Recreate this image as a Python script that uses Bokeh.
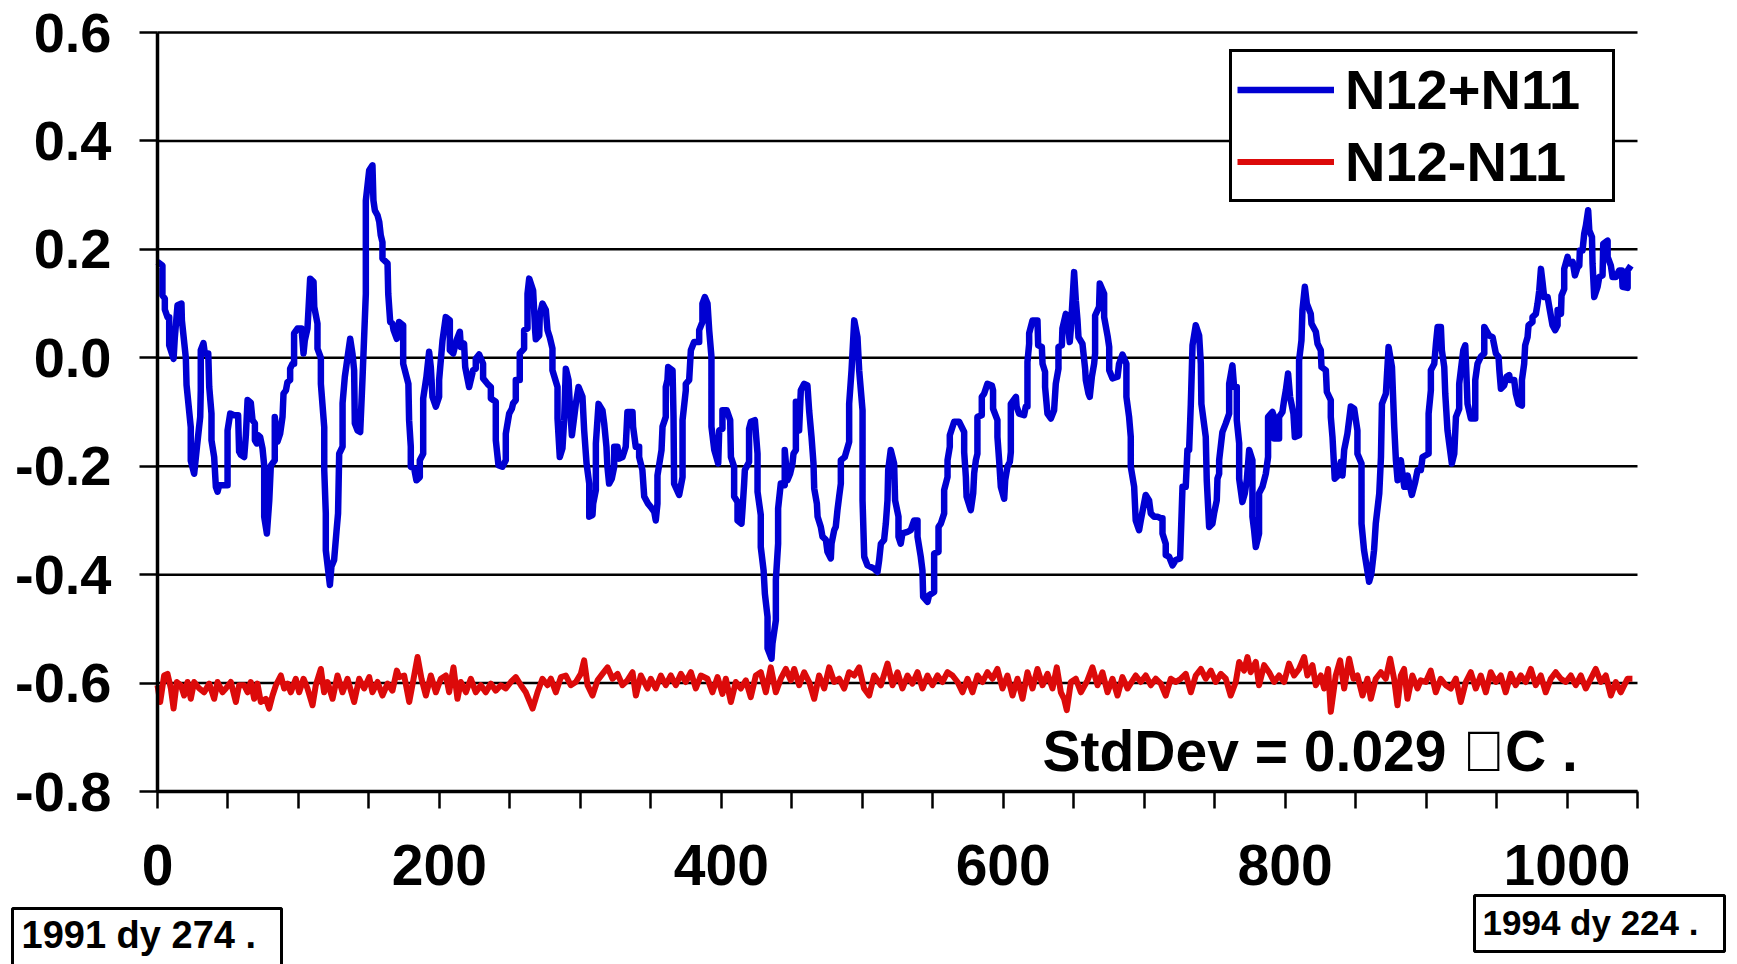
from bokeh.plotting import figure
from bokeh.models import (Range1d, FixedTicker, NumeralTickFormatter, Legend, LegendItem,
                          Label, BoxAnnotation)
from bokeh.embed import file_html
from bokeh.resources import INLINE

# ---------------- data ----------------
series_names = ["N12+N11", "N12-N11"]

sum_day = [
    0, 3.5, 3.5, 5.2, 5.2, 7.1, 8.3, 8.3, 11.4, 12.3,
    14.2, 17.0, 17.3, 20.1, 20.6, 23.6, 23.6, 26.0, 28.0, 30.3,
    30.7, 30.7, 32.6, 33.6, 36.0, 36.7, 38.3, 38.3, 40.2, 41.4,
    42.6, 43.8, 49.7, 49.7, 51.6, 54.4, 57.2, 57.9, 59.1, 61.5,
    62.7, 63.9, 66.2, 67.4, 69.1, 69.1, 70.5, 71.4, 72.8, 74.5,
    75.7, 75.7, 77.6, 79.3, 80.4, 83.2, 83.2, 85.1, 87.0, 88.7,
    89.4, 91.1, 92.2, 94.1, 94.1, 95.8, 96.9, 96.9, 99.3, 102.2,
    103.6, 104.5, 106.4, 108.3, 110.7, 111.2, 113.5, 113.5, 115.9, 115.9,
    118.3, 118.3, 119.4, 119.4, 122.3, 123.4, 125.3, 127.0, 128.1, 128.9,
    131.3, 131.3, 132.9, 136.7, 138.3, 139.5, 140.0, 141.9, 143.8, 145.4,
    147.8, 147.8, 150.2, 152.5, 153.2, 154.2, 156.1, 157.3, 158.4, 159.6,
    159.6, 163.2, 163.7, 165.1, 166.7, 167.5, 169.8, 171.4, 174.3, 174.3,
    178.0, 178.5, 179.7, 179.7, 182.1, 183.7, 186.1, 186.1, 188.5, 188.5,
    190.8, 192.7, 193.9, 195.1, 197.5, 199.8, 199.8, 202.2, 204.5, 207.4,
    207.4, 209.8, 212.1, 214.5, 215.2, 217.5, 218.3, 221.1, 223.9, 225.8,
    225.8, 228.2, 231.0, 231.0, 234.1, 236.5, 236.5, 240.0, 240.0, 241.9,
    244.7, 247.1, 247.1, 249.5, 251.4, 252.3, 254.2, 254.2, 257.0, 257.0,
    260.1, 260.1, 262.5, 262.5, 263.7, 266.5, 267.2, 267.9, 268.4, 270.8,
    271.2, 273.1, 275.5, 276.7, 278.3, 280.2, 280.2, 283.8, 283.8, 285.4,
    287.3, 288.5, 289.7, 291.6, 292.5, 294.0, 296.8, 298.7, 301.5, 302.7,
    304.4, 306.3, 306.3, 308.6, 309.1, 311.0, 311.0, 312.9, 315.7, 316.9,
    318.5, 319.2, 320.4, 322.3, 324.0, 324.0, 326.3, 327.5, 329.9, 332.2,
    333.4, 337.0, 337.4, 339.3, 341.7, 341.7, 344.0, 345.3, 348.0, 349.9,
    352.4, 353.5, 354.7, 354.7, 357.6, 358.3, 360.6, 360.6, 361.8, 362.3,
    365.4, 366.1, 366.5, 370.1, 372.5, 372.5, 374.8, 374.8, 377.2, 378.4,
    380.7, 384.3, 384.3, 386.6, 386.6, 388.3, 390.2, 391.4, 393.0, 393.0,
    395.0, 397.8, 398.5, 400.8, 400.8, 403.9, 406.3, 406.8, 409.1, 409.1,
    411.5, 411.5, 414.3, 415.0, 416.2, 416.7, 419.7, 419.7, 421.0, 423.8,
    425.7, 425.7, 428.0, 428.0, 430.0, 430.9, 432.8, 432.8, 435.6, 436.3,
    438.7, 438.7, 440.3, 440.3, 442.2, 445.0, 445.0, 446.9, 448.8, 450.5,
    451.2, 452.9, 452.9, 454.0, 455.2, 456.4, 458.8, 461.1, 462.3, 464.0,
    465.4, 465.9, 467.8, 468.3, 470.6, 471.8, 474.2, 475.3, 477.7, 478.2,
    480.1, 481.2, 482.4, 483.6, 484.8, 484.8, 487.6, 490.7, 490.7, 492.4,
    494.3, 496.6, 497.8, 500.2, 500.2, 501.4, 503.7, 508.5, 510.8, 512.0,
    513.2, 515.5, 516.7, 517.9, 518.4, 520.2, 522.6, 523.3, 525.7, 525.7,
    527.3, 528.5, 532.1, 534.4, 536.8, 539.2, 539.2, 541.5, 542.7, 543.2,
    546.3, 547.4, 551.0, 551.0, 554.1, 554.1, 555.7, 558.1, 558.1, 560.5,
    560.5, 562.1, 562.1, 565.2, 568.7, 572.3, 572.3, 573.5, 574.0, 577.0,
    578.7, 579.4, 580.6, 581.7, 581.7, 584.8, 584.8, 586.5, 588.8, 591.9,
    592.8, 592.8, 595.9, 595.9, 597.1, 598.3, 600.7, 601.4, 603.0, 604.7,
    605.4, 605.4, 609.0, 609.5, 611.3, 614.8, 616.0, 617.2, 617.2, 618.4,
    618.4, 620.8, 624.3, 624.8, 627.4, 627.9, 629.7, 629.7, 631.4, 633.8,
    636.1, 637.3, 639.2, 639.2, 641.6, 642.0, 644.4, 646.3, 647.2, 648.0,
    650.3, 651.5, 652.7, 653.4, 656.2, 658.1, 658.6, 660.5, 661.4, 662.9,
    664.5, 665.2, 665.2, 668.0, 668.5, 671.6, 671.6, 674.0, 675.2, 675.2,
    677.5, 681.1, 682.2, 684.6, 687.4, 687.4, 689.3, 690.5, 690.5, 692.9,
    694.0, 696.4, 697.6, 701.1, 703.5, 704.7, 707.0, 709.4, 711.8, 713.0,
    713.0, 715.3, 715.3, 717.7, 720.1, 722.4, 725.5, 727.2, 729.5, 730.7,
    731.9, 733.1, 734.3, 736.6, 739.0, 740.2, 740.6, 743.7, 744.4, 746.1,
    748.4, 749.6, 751.5, 752.0, 753.2, 753.2, 755.5, 757.9, 760.3, 760.3,
    762.6, 763.8, 765.7, 765.7, 767.4, 767.4, 769.7, 771.4, 772.8, 774.5,
    776.8, 776.8, 778.0, 779.2, 781.5, 781.5, 783.9, 786.3, 787.9, 787.9,
    791.0, 792.2, 792.2, 795.7, 795.7, 798.1, 799.3, 800.5, 802.1, 803.5,
    805.9, 806.9, 809.9, 809.9, 811.6, 812.3, 814.0, 815.4, 818.2, 818.7,
    821.8, 823.0, 825.3, 825.8, 828.9, 829.6, 832.4, 832.4, 833.6, 835.2,
    837.6, 839.5, 840.7, 841.9, 844.2, 846.6, 849.0, 851.3, 851.3, 854.2,
    854.2, 856.0, 859.6, 861.2, 863.1, 864.3, 866.8, 868.0, 868.7, 871.5,
    873.4, 875.8, 877.4, 878.6, 879.8, 882.1, 883.3, 884.5, 886.9, 886.9,
    889.9, 892.3, 894.0, 896.3, 897.5, 901.8, 901.8, 903.4, 903.4, 905.8,
    907.0, 908.2, 910.5, 911.2, 912.9, 913.6, 915.2, 916.4, 918.3, 920.0,
    921.2, 923.5, 923.5, 926.4, 927.8, 928.7, 929.4, 931.8, 934.9, 934.9,
    936.5, 938.9, 941.3, 941.3, 944.8, 947.2, 949.5, 951.4, 952.0, 953.1,
    955.4, 957.1, 959.0, 959.5, 962.5, 963.7, 965.6, 968.0, 968.0, 969.6,
    970.3, 972.0, 972.7, 975.5, 975.5, 977.9, 979.1, 980.3, 981.5, 982.6,
    983.8, 986.2, 987.8, 989.7, 991.6, 993.3, 993.3, 995.7, 996.1, 998.0,
    998.0, 1000.4, 1001.6, 1004.0, 1005.6, 1007.5, 1008.7, 1009.1, 1011.0, 1012.2,
    1013.4, 1015.0, 1015.8, 1017.7, 1018.1, 1019.3, 1021.7, 1022.9, 1025.2, 1025.7,
    1028.8, 1028.8, 1031.1, 1032.3, 1034.7, 1037.0, 1038.9, 1039.4, 1043.0, 1043.0,
    1045.3,
]

sum_val = [
    0.177, 0.170, 0.115, 0.109, 0.089, 0.075, 0.075, 0.023, -0.002, 0.038,
    0.097, 0.100, 0.069, 0.000, -0.050, -0.128, -0.190, -0.214, -0.164, -0.109,
    -0.060, 0.014, 0.027, 0.008, 0.008, -0.054, -0.103, -0.152, -0.183, -0.238,
    -0.247, -0.235, -0.235, -0.134, -0.103, -0.106, -0.106, -0.173, -0.179, -0.183,
    -0.143, -0.078, -0.083, -0.115, -0.121, -0.152, -0.158, -0.143, -0.146, -0.167,
    -0.199, -0.293, -0.324, -0.263, -0.199, -0.189, -0.109, -0.155, -0.140, -0.109,
    -0.066, -0.060, -0.045, -0.041, -0.020, -0.011, -0.011, 0.045, 0.054, 0.054,
    0.008, 0.032, 0.054, 0.146, 0.140, 0.094, 0.063, 0.017, 0.000, -0.048,
    -0.128, -0.207, -0.287, -0.355, -0.419, -0.385, -0.373, -0.320, -0.287, -0.177,
    -0.164, -0.084, -0.035, 0.035, 0.008, -0.023, -0.121, -0.134, -0.137, -0.041,
    0.118, 0.290, 0.346, 0.355, 0.290, 0.272, 0.263, 0.251, 0.226, 0.213,
    0.183, 0.174, 0.118, 0.066, 0.063, 0.051, 0.035, 0.066, 0.060, -0.011,
    -0.048, -0.115, -0.164, -0.201, -0.204, -0.226, -0.220, -0.189, -0.177, -0.075,
    -0.035, 0.011, -0.017, -0.072, -0.090, -0.072, -0.041, 0.032, 0.075, 0.069,
    0.014, 0.008, 0.032, 0.048, 0.020, 0.026, -0.017, -0.054, -0.023, -0.020,
    -0.002, 0.006, -0.011, -0.038, -0.048, -0.054, -0.075, -0.081, -0.152, -0.198,
    -0.201, -0.189, -0.140, -0.103, -0.094, -0.084, -0.078, -0.041, -0.041, 0.008,
    0.017, 0.051, 0.054, 0.118, 0.146, 0.124, 0.088, 0.051, 0.034, 0.041,
    0.078, 0.100, 0.088, 0.051, 0.038, 0.017, -0.023, -0.054, -0.112, -0.183,
    -0.167, -0.115, -0.020, -0.041, -0.085, -0.143, -0.085, -0.054, -0.072, -0.134,
    -0.195, -0.232, -0.293, -0.290, -0.269, -0.244, -0.158, -0.085, -0.097, -0.121,
    -0.164, -0.201, -0.232, -0.223, -0.201, -0.164, -0.164, -0.186, -0.183, -0.164,
    -0.100, -0.100, -0.127, -0.164, -0.164, -0.183, -0.207, -0.256, -0.269, -0.275,
    -0.284, -0.300, -0.269, -0.217, -0.170, -0.127, -0.109, -0.054, -0.041, -0.017,
    -0.023, -0.109, -0.232, -0.253, -0.220, -0.115, -0.060, -0.048, -0.041, 0.014,
    0.029, 0.029, 0.051, 0.066, 0.100, 0.112, 0.100, 0.051, 0.002, -0.127,
    -0.170, -0.195, -0.134, -0.131, -0.097, -0.097, -0.115, -0.183, -0.201, -0.256,
    -0.266, -0.300, -0.306, -0.281, -0.232, -0.207, -0.192, -0.131, -0.118, -0.115,
    -0.177, -0.247, -0.290, -0.349, -0.392, -0.435, -0.478, -0.536, -0.555, -0.527,
    -0.484, -0.410, -0.343, -0.278, -0.232, -0.235, -0.170, -0.226, -0.214, -0.195,
    -0.177, -0.170, -0.081, -0.103, -0.134, -0.060, -0.048, -0.051, -0.097, -0.146,
    -0.195, -0.241, -0.269, -0.293, -0.312, -0.330, -0.336, -0.358, -0.370, -0.343,
    -0.318, -0.312, -0.281, -0.256, -0.232, -0.189, -0.183, -0.155, -0.085, -0.023,
    0.069, 0.038, -0.023, -0.097, -0.263, -0.367, -0.383, -0.389, -0.395, -0.373,
    -0.343, -0.336, -0.306, -0.263, -0.207, -0.170, -0.195, -0.263, -0.293, -0.330,
    -0.343, -0.324, -0.321, -0.318, -0.300, -0.300, -0.330, -0.367, -0.392, -0.441,
    -0.450, -0.438, -0.432, -0.361, -0.358, -0.312, -0.306, -0.287, -0.244, -0.220,
    -0.189, -0.164, -0.143, -0.118, -0.118, -0.137, -0.174, -0.220, -0.256, -0.281,
    -0.250, -0.213, -0.189, -0.177, -0.109, -0.106, -0.072, -0.066, -0.048, -0.051,
    -0.060, -0.094, -0.115, -0.146, -0.189, -0.238, -0.260, -0.226, -0.201, -0.192,
    -0.174, -0.085, -0.072, -0.090, -0.103, -0.106, -0.090, -0.090, -0.008, 0.026,
    0.045, 0.069, 0.069, 0.023, 0.020, -0.011, -0.026, -0.054, -0.103, -0.112,
    -0.097, -0.048, -0.020, 0.020, 0.023, 0.054, 0.081, 0.051, 0.029, 0.054,
    0.158, 0.106, 0.069, 0.038, 0.026, -0.020, -0.041, -0.066, -0.072, -0.035,
    -0.011, 0.008, 0.078, 0.094, 0.137, 0.118, 0.075, 0.041, 0.020, -0.023,
    -0.038, -0.035, -0.011, 0.006, -0.011, -0.072, -0.109, -0.146, -0.201, -0.238,
    -0.300, -0.318, -0.300, -0.253, -0.263, -0.287, -0.293, -0.293, -0.296, -0.296,
    -0.324, -0.343, -0.364, -0.367, -0.383, -0.373, -0.370, -0.238, -0.238, -0.170,
    -0.170, -0.085, 0.023, 0.060, 0.041, -0.011, -0.085, -0.146, -0.226, -0.312,
    -0.306, -0.287, -0.263, -0.223, -0.214, -0.189, -0.137, -0.121, -0.103, -0.048,
    -0.014, -0.054, -0.054, -0.115, -0.158, -0.223, -0.266, -0.250, -0.226, -0.170,
    -0.189, -0.293, -0.318, -0.349, -0.324, -0.250, -0.238, -0.214, -0.183, -0.109,
    -0.100, -0.109, -0.149, -0.149, -0.109, -0.100, -0.078, -0.060, -0.029, -0.072,
    -0.103, -0.146, -0.143, -0.005, 0.032, 0.088, 0.131, 0.100, 0.081, 0.063,
    0.048, 0.026, 0.014, -0.017, -0.023, -0.063, -0.078, -0.109, -0.146, -0.223,
    -0.217, -0.192, -0.217, -0.170, -0.140, -0.090, -0.094, -0.134, -0.177, -0.195,
    -0.306, -0.355, -0.413, -0.398, -0.355, -0.306, -0.250, -0.183, -0.085, -0.066,
    0.020, -0.017, -0.127, -0.189, -0.226, -0.189, -0.214, -0.238, -0.238, -0.217,
    -0.253, -0.229, -0.207, -0.207, -0.183, -0.177, -0.103, -0.060, -0.023, -0.011,
    0.026, 0.057, 0.057, 0.014, -0.017, -0.066, -0.134, -0.158, -0.195, -0.177,
    -0.109, -0.094, -0.048, 0.014, 0.023, -0.035, -0.085, -0.112, -0.112, -0.041,
    -0.011, 0.002, 0.008, 0.057, 0.041, 0.038, 0.008, 0.002, -0.023, -0.057,
    -0.051, -0.035, -0.032, -0.041, -0.041, -0.066, -0.085, -0.088, -0.041, -0.011,
    0.023, 0.038, 0.060, 0.066, 0.075, 0.081, 0.100, 0.124, 0.164, 0.140,
    0.112, 0.112, 0.088, 0.060, 0.051, 0.060, 0.088, 0.081, 0.115, 0.127,
    0.164, 0.186, 0.174, 0.177, 0.152, 0.167, 0.170, 0.198, 0.198, 0.229,
    0.244, 0.272, 0.235, 0.223, 0.174, 0.112, 0.131, 0.149, 0.152, 0.210,
    0.216, 0.186, 0.170, 0.149, 0.149, 0.161, 0.161, 0.131, 0.129, 0.161,
    0.170,
]

diff_day = [
    0, 1.9, 4.7, 7.1, 9.5, 11.4, 13.7, 16.6, 18.9, 21.3,
    23.6, 26.0, 29.6, 33.1, 36.7, 40.2, 42.6, 46.1, 48.5, 52.0,
    55.6, 57.9, 61.5, 63.9, 66.2, 68.6, 70.9, 73.3, 76.9, 79.2,
    81.6, 84.0, 87.5, 89.9, 92.2, 94.6, 98.1, 100.5, 103.6, 106.4,
    110.0, 112.3, 115.9, 118.2, 120.6, 124.2, 127.7, 131.3, 134.8, 139.5,
    143.1, 146.6, 150.2, 152.5, 156.1, 159.6, 163.2, 166.7, 169.8, 171.5,
    175.0, 178.6, 182.1, 184.5, 187.3, 190.4, 193.9, 197.5, 201.0, 204.6,
    206.9, 210.0, 212.8, 215.2, 218.8, 222.3, 225.8, 229.4, 232.9, 236.5,
    240.0, 243.6, 247.1, 250.7, 254.2, 257.8, 261.3, 266.1, 269.6, 273.1,
    276.7, 279.1, 282.6, 286.2, 289.7, 293.2, 296.8, 300.3, 302.7, 305.1,
    308.6, 312.2, 315.7, 319.3, 322.8, 326.4, 329.9, 333.4, 337.0, 339.4,
    342.9, 347.6, 350.0, 353.5, 357.1, 360.6, 364.2, 367.7, 371.3, 374.8,
    378.4, 381.9, 385.5, 390.2, 393.7, 397.3, 400.8, 403.2, 406.8, 410.3,
    413.8, 417.4, 420.9, 424.5, 428.0, 431.6, 435.1, 438.7, 442.2, 445.8,
    449.3, 451.7, 455.2, 458.8, 462.3, 465.9, 469.4, 473.0, 476.5, 480.1,
    483.6, 487.2, 490.7, 494.3, 497.8, 501.3, 504.9, 508.4, 513.2, 517.9,
    521.5, 525.0, 528.5, 532.1, 535.6, 539.2, 542.7, 546.3, 549.8, 553.4,
    556.9, 560.5, 564.0, 567.6, 571.1, 574.7, 578.2, 581.8, 585.3, 588.8,
    592.4, 595.9, 599.5, 603.0, 606.6, 610.1, 613.7, 617.2, 620.8, 624.3,
    627.9, 631.4, 635.0, 638.0, 640.9, 643.2, 645.1, 648.0, 651.5, 655.1,
    659.8, 663.3, 666.9, 670.4, 674.0, 677.5, 681.1, 684.6, 688.2, 694.0,
    697.6, 701.1, 704.7, 708.2, 711.8, 715.3, 718.9, 722.4, 726.0, 729.5,
    733.1, 736.6, 740.2, 743.7, 747.3, 750.8, 754.4, 757.9, 761.4, 765.0,
    767.4, 770.9, 773.3, 775.6, 779.2, 781.5, 785.1, 788.6, 792.2, 795.7,
    799.3, 802.8, 806.4, 809.9, 813.5, 815.8, 819.4, 821.8, 825.3, 827.7,
    830.5, 832.4, 835.9, 839.0, 841.9, 845.4, 848.5, 851.3, 854.9, 858.4,
    860.8, 864.3, 867.9, 871.4, 874.5, 877.3, 879.7, 882.1, 884.4, 886.8,
    890.3, 893.9, 896.2, 899.8, 903.3, 906.9, 910.4, 914.0, 917.5, 921.1,
    924.6, 928.2, 931.7, 935.3, 938.8, 942.4, 945.9, 949.5, 953.0, 956.5,
    960.1, 963.6, 967.2, 970.7, 974.3, 977.8, 981.4, 984.9, 988.5, 992.0,
    995.6, 999.1, 1002.7, 1006.2, 1009.8, 1013.3, 1016.9, 1020.4, 1024.0, 1027.5,
    1031.1, 1034.6, 1038.1, 1042.9, 1046.4,
]

diff_val = [
    -0.604, -0.635, -0.586, -0.583, -0.610, -0.647, -0.598, -0.604, -0.623, -0.598,
    -0.629, -0.598, -0.610, -0.617, -0.601, -0.629, -0.598, -0.617, -0.610, -0.598,
    -0.635, -0.604, -0.604, -0.617, -0.598, -0.629, -0.601, -0.635, -0.629, -0.647,
    -0.623, -0.604, -0.586, -0.610, -0.601, -0.617, -0.592, -0.617, -0.592, -0.610,
    -0.641, -0.604, -0.574, -0.617, -0.598, -0.629, -0.586, -0.617, -0.592, -0.635,
    -0.592, -0.610, -0.589, -0.617, -0.598, -0.623, -0.601, -0.614, -0.577, -0.589,
    -0.586, -0.635, -0.586, -0.552, -0.592, -0.623, -0.586, -0.617, -0.592, -0.586,
    -0.617, -0.571, -0.629, -0.598, -0.617, -0.592, -0.617, -0.604, -0.617, -0.601,
    -0.614, -0.604, -0.610, -0.598, -0.589, -0.604, -0.617, -0.647, -0.617, -0.592,
    -0.604, -0.592, -0.617, -0.589, -0.586, -0.604, -0.598, -0.583, -0.558, -0.604,
    -0.623, -0.595, -0.583, -0.571, -0.592, -0.583, -0.604, -0.595, -0.580, -0.623,
    -0.586, -0.610, -0.592, -0.610, -0.586, -0.604, -0.586, -0.604, -0.583, -0.598,
    -0.580, -0.610, -0.586, -0.592, -0.617, -0.589, -0.620, -0.592, -0.635, -0.598,
    -0.610, -0.595, -0.626, -0.586, -0.580, -0.617, -0.571, -0.617, -0.592, -0.574,
    -0.595, -0.574, -0.604, -0.580, -0.598, -0.629, -0.586, -0.610, -0.571, -0.598,
    -0.592, -0.610, -0.580, -0.586, -0.571, -0.610, -0.623, -0.586, -0.604, -0.564,
    -0.604, -0.580, -0.610, -0.586, -0.601, -0.580, -0.610, -0.586, -0.604, -0.586,
    -0.598, -0.580, -0.586, -0.598, -0.617, -0.592, -0.617, -0.586, -0.598, -0.580,
    -0.592, -0.574, -0.610, -0.586, -0.623, -0.592, -0.629, -0.580, -0.610, -0.574,
    -0.604, -0.583, -0.610, -0.571, -0.617, -0.629, -0.650, -0.598, -0.592, -0.617,
    -0.595, -0.571, -0.604, -0.580, -0.617, -0.592, -0.623, -0.589, -0.610, -0.586,
    -0.598, -0.586, -0.604, -0.592, -0.601, -0.623, -0.592, -0.598, -0.592, -0.583,
    -0.617, -0.586, -0.574, -0.592, -0.577, -0.598, -0.583, -0.592, -0.623, -0.598,
    -0.561, -0.577, -0.552, -0.580, -0.561, -0.604, -0.567, -0.580, -0.598, -0.586,
    -0.598, -0.564, -0.586, -0.574, -0.552, -0.586, -0.567, -0.604, -0.586, -0.610,
    -0.574, -0.653, -0.586, -0.558, -0.610, -0.555, -0.592, -0.586, -0.623, -0.592,
    -0.629, -0.592, -0.580, -0.592, -0.555, -0.592, -0.641, -0.586, -0.574, -0.629,
    -0.586, -0.610, -0.595, -0.598, -0.577, -0.617, -0.592, -0.604, -0.610, -0.592,
    -0.635, -0.598, -0.580, -0.610, -0.586, -0.617, -0.580, -0.598, -0.586, -0.617,
    -0.583, -0.604, -0.586, -0.598, -0.574, -0.604, -0.586, -0.617, -0.592, -0.580,
    -0.592, -0.598, -0.586, -0.604, -0.586, -0.610, -0.592, -0.574, -0.598, -0.586,
    -0.623, -0.598, -0.617, -0.592, -0.592,
]

y_ticks = [-0.8, -0.6, -0.4, -0.2, 0.0, 0.2, 0.4, 0.6]
x_label_ticks = [0, 200, 400, 600, 800, 1000]
x_minor_ticks = [50, 100, 150, 250, 300, 350, 450, 500, 550, 650, 700, 750,
                 850, 900, 950, 1050]
day_axis_bounds = (0, 1050)
value_axis_bounds = (-0.8, 0.6)

start_label = "1991 dy 274 ."
end_label = "1994 dy 224 ."
stat_label = "StdDev = 0.029 \uf0b0C ."

# ---------------- figure ----------------
# The frame covers the whole canvas so that the date boxes below the
# axis are not clipped; the axes are pinned at day 0 and value -0.8.
FONT = "Liberation Sans"
BLUE = "#0000d2"
RED = "#dc0a0a"

W, H = 1737, 964
PX_LEFT, PX_RIGHT = 157.0, 1637.0      # pixel positions of day 0 / day 1050
PX_TOP, PX_BOTTOM = 32.0, 791.0        # pixel positions of 0.6 / -0.8
sx = (PX_RIGHT - PX_LEFT) / (day_axis_bounds[1] - day_axis_bounds[0])
sy = (PX_BOTTOM - PX_TOP) / (value_axis_bounds[1] - value_axis_bounds[0])
x_range = Range1d(day_axis_bounds[0] - PX_LEFT / sx,
                  day_axis_bounds[1] + (W - PX_RIGHT) / sx)
y_range = Range1d(value_axis_bounds[0] - (H - PX_BOTTOM) / sy,
                  value_axis_bounds[1] + PX_TOP / sy)

p = figure(width=W, height=H, output_backend="svg", toolbar_location=None,
           x_range=x_range, y_range=y_range,
           min_border_left=0, min_border_right=0, min_border_top=0,
           min_border_bottom=0, title=None)
p.outline_line_color = None
p.background_fill_color = "white"
p.border_fill_color = "white"

p.xaxis.ticker = FixedTicker(ticks=x_label_ticks, minor_ticks=x_minor_ticks)
p.yaxis.ticker = FixedTicker(ticks=y_ticks)
p.yaxis.formatter = NumeralTickFormatter(format="0.0")
p.xaxis.fixed_location = value_axis_bounds[0]
p.yaxis.fixed_location = day_axis_bounds[0]
p.xaxis.bounds = day_axis_bounds
p.yaxis.bounds = value_axis_bounds

for ax in (p.xaxis[0], p.yaxis[0]):
    ax.axis_line_color = "black"
    ax.axis_line_width = 3.5
    ax.major_tick_line_color = "black"
    ax.major_tick_line_width = 2.5
    ax.major_tick_in = 0
    ax.major_label_text_font = FONT
    ax.major_label_text_font_style = "bold"
    ax.major_label_text_color = "black"

p.xaxis.major_tick_out = 17
p.xaxis.minor_tick_out = 17
p.xaxis.minor_tick_in = 0
p.xaxis.minor_tick_line_color = "black"
p.xaxis.minor_tick_line_width = 2.5
p.xaxis.major_label_text_font_size = "57px"
p.xaxis.major_label_standoff = 36

p.yaxis.major_tick_out = 18
p.yaxis.minor_tick_line_color = None
p.yaxis.major_label_text_font_size = "56px"
p.yaxis.major_label_standoff = 28

# horizontal grid lines, only across the plotted day span
p.xgrid.grid_line_color = None
p.ygrid.grid_line_color = None
p.segment(x0=[day_axis_bounds[0]] * len(y_ticks), y0=y_ticks,
          x1=[day_axis_bounds[1]] * len(y_ticks), y1=y_ticks,
          line_color="black", line_width=2.5)

r_sum = p.line(sum_day, sum_val, line_color=BLUE, line_width=6.5, line_join="round")
r_diff = p.line(diff_day, diff_val, line_color=RED, line_width=6, line_join="round")

legend = Legend(
    items=[LegendItem(label=series_names[0], renderers=[r_sum]),
           LegendItem(label=series_names[1], renderers=[r_diff])],
    location=(1229, 762), orientation="vertical", margin=0,
    label_text_font=FONT, label_text_font_style="bold", label_text_font_size="56px",
    label_text_color="black",
    glyph_width=97, glyph_height=63, label_height=63, label_width=262,
    label_standoff=11, spacing=7, padding=5,
    border_line_color="black", border_line_width=3, border_line_alpha=1.0,
    background_fill_color="white", background_fill_alpha=1.0,
)
p.add_layout(legend)

stat = Label(x=1042, y=214, x_units="screen", y_units="screen", text=stat_label,
             text_font=FONT, text_font_style="bold", text_font_size="57px",
             text_color="black", text_align="left", text_baseline="alphabetic")
p.add_layout(stat)

start_frame = BoxAnnotation(left=12, right=281, top=56, bottom=-8,
                            left_units="screen", right_units="screen",
                            top_units="screen", bottom_units="screen",
                            fill_color="white", fill_alpha=1.0,
                            line_color="black", line_width=3, line_alpha=1.0)
p.add_layout(start_frame)
start_text = Label(x=21, y=30, x_units="screen", y_units="screen", text=start_label,
                   text_font=FONT, text_font_style="bold", text_font_size="38px",
                   text_color="black", text_align="left", text_baseline="alphabetic")
p.add_layout(start_text)

end_frame = BoxAnnotation(left=1474, right=1724, top=69, bottom=13,
                          left_units="screen", right_units="screen",
                          top_units="screen", bottom_units="screen",
                          fill_color="white", fill_alpha=1.0,
                          line_color="black", line_width=3, line_alpha=1.0)
p.add_layout(end_frame)
end_text = Label(x=1482, y=42, x_units="screen", y_units="screen", text=end_label,
                 text_font=FONT, text_font_style="bold", text_font_size="35px",
                 text_color="black", text_align="left", text_baseline="alphabetic")
p.add_layout(end_text)

open("out.html", "w").write(file_html(p, INLINE))
